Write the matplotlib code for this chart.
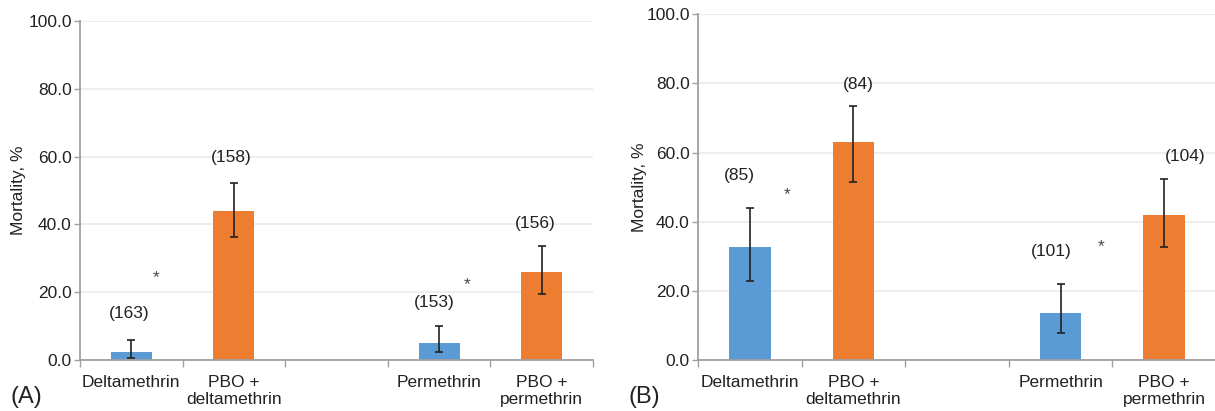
import matplotlib
matplotlib.use("Agg")
import matplotlib.pyplot as plt
import numpy as np

plt.rcParams['font.family'] = ['Liberation Sans', 'DejaVu Sans']

categories = ["Deltamethrin", "PBO +\ndeltamethrin", "", "Permethrin", "PBO +\npermethrin"]
bar_positions = [0, 1, 3, 4]
bar_kind = ["single", "pbo", "single", "pbo"]

# Panel A
a_values = [2.4, 44.0, 5.1, 26.0]
a_err_low = [0.7, 36.2, 2.4, 19.5]
a_err_high = [5.9, 52.1, 9.9, 33.7]
a_counts = ["(163)", "(158)", "(153)", "(156)"]
a_count_x = [-0.02, 0.97, 2.95, 3.94]
a_count_y = [13.8, 59.6, 17.0, 40.3]
a_star_x = [0.24, 3.27]
a_star_y = [24.3, 22.1]

# Panel B
b_values = [32.8, 63.2, 13.7, 41.9]
b_err_low = [22.9, 51.6, 7.7, 32.6]
b_err_high = [44.1, 73.5, 22.0, 52.4]
b_counts = ["(85)", "(84)", "(101)", "(104)"]
b_count_x = [-0.1, 1.05, 2.91, 4.2]
b_count_y = [53.5, 79.7, 31.3, 58.8]
b_star_x = [0.36, 3.39]
b_star_y = [47.7, 32.8]

yticks = [0, 20, 40, 60, 80, 100]

colors = {"single": "#5B9BD5", "pbo": "#ED7D31"}

fig = plt.figure(figsize=(12.15, 4.11), dpi=100)
axA = fig.add_axes([80/1215, 1-360/411, 513/1215, (360-21)/411])
axB = fig.add_axes([698/1215, 1-360/411, 518/1215, (360-14.3)/411])

def draw(ax, vals, lo, hi, counts, cx, cy, sx, sy, label, ylab_x, lab_x):
    cols = [colors[k] for k in bar_kind]
    vals = np.array(vals); lo = np.array(lo); hi = np.array(hi)
    ax.bar(bar_positions, vals, width=0.4, color=cols, zorder=2)
    ax.errorbar(bar_positions, vals, yerr=[vals-lo, hi-vals], fmt='none',
                ecolor='#222222', elinewidth=1.2, capsize=2.6, capthick=1.2, zorder=3)
    for t, x, y in zip(counts, cx, cy):
        ax.text(x, y, t, ha='center', va='center', fontsize=12.5, color='#222222')
    for x, y in zip(sx, sy):
        ax.text(x, y, '*', ha='center', va='center', fontsize=12.5, color='#444444')
    ax.set_xlim(-0.5, 4.5)
    ax.set_ylim(0, 100)
    ax.set_yticks(yticks)
    ax.set_yticklabels([f"{v:.1f}" for v in yticks], fontsize=12.5, color='#222222')
    ax.set_xticks(range(5))
    ax.set_xticklabels(categories, fontsize=12.5, color='#222222', linespacing=1.15)
    ax.tick_params(axis='x', which='major', length=0, pad=11)
    ax.set_xticks(np.arange(-0.5, 5, 1), minor=True)
    ax.tick_params(axis='x', which='minor', length=5, width=1, color='#a0a0a0')
    ax.tick_params(axis='y', length=4, width=1, color='#a0a0a0', pad=2)
    ax.grid(axis='y', color='#ebebeb', linewidth=1.2, zorder=0)
    ax.set_axisbelow(True)
    for s in ['top', 'right']:
        ax.spines[s].set_visible(False)
    for s in ['left', 'bottom']:
        ax.spines[s].set_color('#a0a0a0')
        ax.spines[s].set_linewidth(1.3)
    ax.set_ylabel("Mortality, %", fontsize=12.5, color='#222222')
    ax.yaxis.set_label_coords(ylab_x, 0.5)
    fig.text(lab_x, 1-397/411, label, fontsize=17, ha='left', va='center', color='#222222')

draw(axA, a_values, a_err_low, a_err_high, a_counts, a_count_x, a_count_y,
     a_star_x, a_star_y, "(A)", -0.106, 11/1215)
draw(axB, b_values, b_err_low, b_err_high, b_counts, b_count_x, b_count_y,
     b_star_x, b_star_y, "(B)", -0.098, 629/1215)

fig.savefig("out.png", dpi=100, facecolor='white')
